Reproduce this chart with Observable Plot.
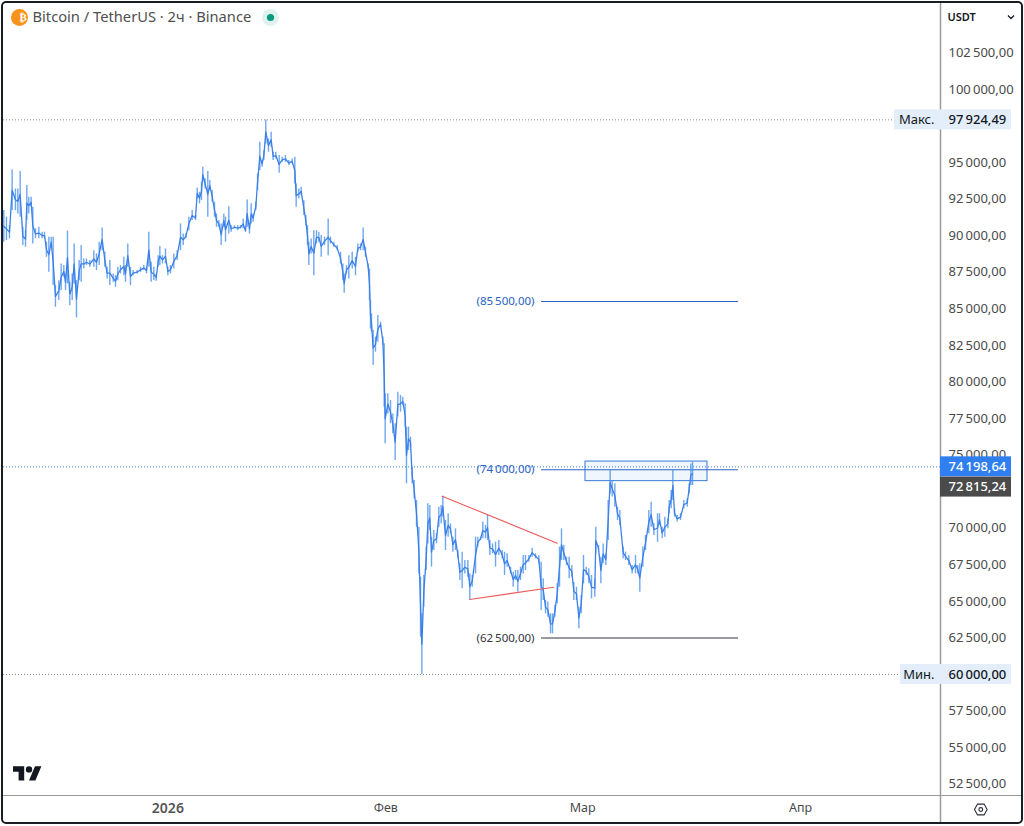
<!DOCTYPE html>
<html><head><meta charset="utf-8">
<script src="https://cdn.jsdelivr.net/npm/d3@7"></script>
<script src="https://cdn.jsdelivr.net/npm/@observablehq/plot@0.6"></script>
<style>
html,body{margin:0;padding:0;background:#f4f4f4;}
#wrap{position:relative;width:1024px;height:826px;overflow:hidden;}
#wrap svg{display:block;}
#frame{position:absolute;left:1px;top:1px;width:1018px;height:819px;border:2px solid #1b1d24;border-radius:5px;pointer-events:none;}
</style></head><body>
<div id="wrap"><div id="chart"></div><div id="frame"></div></div>
<script>
// Days counted from the chart's anchor bar; prices in thousand USDT.
const baseDate = Date.UTC(2026,0,1,19,12);
const decDays = [-24.14,-23.76,-23.33,-22.95,-22.48,-22.14,-21.81,-21.43,-21.05,-20.86,-20.58,-20.25,-20.01,-19.63,-19.16,-18.68,-18.35,-18.07,-17.73,-17.40,-17.12,-16.79,-16.31,-15.98,-15.60,-15.36,-15.08,-14.75,-14.41,-14.13,-13.80,-13.42,-13.13,-12.76,-12.38,-11.90,-11.33,-10.95,-10.57,-10.15,-9.77,-9.44,-9.06,-8.58,-8.25,-7.92,-7.54,-7.06,-6.83,-6.50,-6.12,-5.74,-5.17,-4.69,-4.22,-3.84,-3.51,-3.18,-2.80,-2.46,-2.18,-1.94,-1.56,-1.14,-0.80,-0.43,0.05,0.52,1.00,1.38,1.76,2.18,2.66,3.13,3.37,3.70];
const decHigh = [91.72,91.27,90.70,94.50,93.20,93.20,94.39,90.58,90.35,93.43,92.63,92.63,91.95,90.47,90.58,90.24,90.24,89.56,89.90,89.90,89.90,86.59,86.93,88.07,87.96,87.39,90.31,86.82,87.39,89.44,86.93,88.30,89.33,88.41,88.41,88.30,88.98,88.76,89.56,90.53,88.87,87.84,88.30,87.39,87.27,87.84,87.96,88.53,87.96,89.44,87.84,87.62,87.62,87.84,87.96,87.84,90.24,88.19,87.84,87.39,88.64,89.26,88.64,89.10,87.84,87.96,88.76,88.98,90.81,90.12,90.12,91.27,91.72,91.38,93.27,92.97];
const decLow = [89.56,89.67,89.79,91.72,91.72,91.49,91.27,89.33,89.21,91.04,91.49,91.95,89.44,89.79,89.79,89.79,89.79,88.53,87.50,89.21,86.59,85.11,85.57,86.25,87.16,86.25,86.70,85.22,85.57,86.70,84.38,86.93,86.82,87.73,87.96,87.84,87.84,87.62,87.96,88.98,87.84,87.05,86.59,86.82,86.48,86.93,87.39,87.27,86.82,87.84,86.59,87.27,87.39,87.50,87.62,87.39,87.84,86.82,86.93,86.89,87.84,87.96,88.07,88.07,87.27,87.39,87.73,88.30,88.98,89.33,89.79,90.35,91.04,91.04,92.52,92.18];

const janDays = [3.98,4.17,4.50,4.88,5.17,5.50,5.83,6.12,6.45,6.78,7.16,7.40,7.87,8.20,8.68,9.15,9.53,9.91,10.24,10.48,10.81,11.05,11.33,11.71,11.96,12.28,12.61,12.85,13.13,13.51,13.89,14.18,14.56,15.03,15.46,15.93,16.41,16.88,17.26,17.45,17.83,18.16,18.54,18.82,19.06,19.25,19.58,19.96,20.34,20.67,21.01,21.48,22.00,22.33,22.81,23.28,23.76,24.09,24.28,24.61,24.94,25.42,25.89,26.22,26.60,26.98,27.31,27.69,27.88,28.02];
const janHigh = [93.66,94.68,93.89,94.39,93.77,93.09,92.29,91.49,91.04,90.81,91.49,91.27,91.99,90.69,90.69,90.69,90.69,91.15,90.47,92.45,90.81,92.18,91.49,92.29,94.23,96.39,95.14,95.82,97.92,96.62,97.08,95.71,95.71,95.48,95.37,95.48,95.14,95.25,95.37,93.54,93.20,93.32,92.40,91.38,90.69,89.55,89.78,90.35,90.35,90.24,90.01,89.90,91.15,89.90,89.55,89.33,88.87,88.07,87.39,87.96,88.64,88.87,88.53,89.44,89.44,90.53,89.21,88.07,87.73,85.56];
const janLow = [92.40,93.66,93.20,91.27,93.09,92.29,91.27,90.58,90.58,89.33,90.58,89.56,90.12,90.24,90.47,90.35,90.47,90.47,90.24,90.58,90.12,90.81,90.92,91.72,93.09,94.46,94.68,95.14,96.28,95.71,96.05,95.14,95.25,94.27,95.02,95.02,94.80,94.91,93.54,91.95,92.52,92.75,91.38,90.69,89.33,87.96,88.76,87.27,89.44,89.55,88.53,89.33,88.64,89.44,89.21,88.98,88.07,86.93,86.07,87.39,87.05,87.73,87.27,88.87,88.98,88.98,88.53,87.73,85.56,83.62];

const febDays = [28.16,28.40,28.73,29.07,29.45,29.78,29.97,30.11,30.49,30.87,31.20,31.53,31.91,32.29,32.62,32.95,33.14,33.43,33.71,33.95,34.23,34.57,34.90,35.14,35.33,35.61,35.94,36.18,36.46,36.70,37.03,37.41,37.74,38.08,38.31,38.69,39.07,39.40,39.74,40.11,40.45,40.73,41.06,41.44,41.87,42.15,42.49,42.96,43.29,43.67,44.00,44.38,44.67,45.00,45.38,45.81,46.28,46.75,47.09,47.46,47.94,48.32,48.65,48.98,49.36,49.74,50.07,50.55,51.02,51.50,51.97,52.30,52.59,52.92,53.25,53.63,53.91,54.25,54.58,54.91];
const febHigh = [84.66,83.52,83.07,84.55,84.09,83.07,82.61,79.19,79.19,78.73,77.82,77.14,79.30,79.08,78.96,78.51,76.91,76.91,76.23,74.18,73.26,71.90,70.07,66.65,64.15,66.77,68.71,71.67,71.56,69.39,69.85,69.62,71.44,71.56,72.19,70.53,70.99,70.30,69.39,69.96,68.48,67.57,68.36,67.79,67.79,66.88,66.77,69.39,69.39,69.39,70.42,70.19,70.92,69.16,68.93,69.05,69.16,68.48,68.36,68.25,67.34,67.00,67.11,67.11,67.34,68.14,68.14,68.14,68.64,68.25,68.14,67.68,66.54,65.06,64.95,64.15,64.15,64.72,66.20,68.71];
const febLow = [83.41,81.13,82.04,82.72,83.75,82.50,78.28,75.77,77.82,77.14,76.46,74.63,77.60,77.94,78.39,76.91,73.04,75.32,75.54,73.04,72.01,70.07,66.88,62.55,60.00,64.60,67.11,68.93,69.85,67.34,68.48,68.93,70.07,70.30,70.76,68.48,69.39,69.62,68.36,68.48,67.91,66.43,65.86,66.88,66.65,65.13,65.97,66.88,68.71,69.16,69.28,69.28,69.16,68.14,68.25,67.34,68.14,67.91,66.77,67.34,66.88,65.97,66.43,65.63,66.43,66.88,67.11,67.68,68.02,67.91,67.57,64.38,65.06,64.15,63.92,62.78,62.78,63.92,64.83,65.97];

const marDays = [55.19,55.52,55.90,56.28,56.66,56.94,57.32,57.66,57.99,58.32,58.70,59.08,59.46,59.93,60.07,60.45,60.79,61.12,61.50,61.83,62.11,62.40,62.78,63.16,63.49,63.96,64.30,64.77,65.24,65.72,66.05,66.33,66.76,67.14,67.61,67.94,68.33,68.85,69.13,69.51,69.89,70.32,70.51,70.79,71.03,71.27,71.64,72.12,72.59,73.07,73.35,73.59,73.83];
const marHigh = [69.96,68.82,68.02,68.02,67.45,66.31,65.97,64.60,65.40,68.14,67.34,67.23,66.77,66.54,70.07,68.82,68.02,68.93,68.25,71.90,73.95,73.27,73.04,71.44,71.21,68.71,68.37,68.14,67.45,68.14,67.45,67.57,68.71,69.50,71.21,71.78,70.30,70.99,70.99,70.07,70.76,70.64,71.90,72.58,73.95,71.33,70.87,70.99,71.90,72.01,73.04,74.40,74.52];
const marLow = [67.79,67.79,67.45,66.54,66.66,65.06,65.06,63.12,64.15,66.20,66.77,66.20,65.17,65.29,68.25,68.48,66.20,67.57,67.45,69.16,72.35,72.13,71.44,70.53,70.19,67.91,67.79,67.45,66.88,66.88,66.88,65.63,67.34,68.48,69.62,70.07,69.50,69.05,70.19,69.28,69.39,69.96,70.99,71.33,71.90,70.76,70.42,70.53,71.33,71.44,72.35,72.92,72.92];

const barDays = [...decDays,...janDays,...febDays,...marDays];
const barHigh = [...decHigh,...janHigh,...febHigh,...marHigh];
const barLow  = [...decLow,...janLow,...febLow,...marLow];

const priceTicks = [52500,55000,57500,62500,65000,67500,70000,75000,77500,80000,82500,85000,87500,90000,92500,95000,100000,102500];
const timeTicks = [Date.UTC(2026,1,1),Date.UTC(2026,2,1),Date.UTC(2026,3,1)];
const timeTickLabels = ["Фев","Мар","Апр"];
const yearTick = Date.UTC(2026,0,1);
const levelPrices = [85500,74000,62500];
const levelColors = ["#2b62c4","#2b62c4","#33363d"];
const levelStartDay = 52.35, levelEndDay = 80.37;
const wedgeTop = [[38.22,72190],[54.58,68980]];
const wedgeBottom = [[42.12,65130],[54.08,65970]];
const zone = {day1:58.6,day2:75.96,price1:73220,price2:74560};
const maxPrice = 97924.49, minPrice = 60000, lastPrice = 74198.64, prevPrice = 72815.24;

const toDate = d => new Date(baseDate + d*864e5);
const bars = barDays.map((d,i)=>({date:toDate(d),high:barHigh[i]*1000,low:barLow[i]*1000,mid:(barHigh[i]+barLow[i])*500}));
const loc = d3.formatLocale({decimal:",",thousands:"\u2009",grouping:[3]});
const fmt = loc.format(",.2f");
const FONT = "Noto Sans, sans-serif";
const dayLeft=-24.18, dayRight=109.1, priceBottom=51727, priceTop=105880;
const badgeH = 684;

const svgMark = (markup) => () => {
  const g = document.createElementNS("http://www.w3.org/2000/svg","g");
  g.innerHTML = markup; return g;
};
const badge = (price,day1,day2,fill) => Plot.rect([0],{x1:toDate(day1),x2:toDate(day2),y1:price-badgeH,y2:price+badgeH,fill});
const hdrDot = (dx,r,fill) => Plot.dot([0],{frameAnchor:"top-left",dx,dy:14,r,fill,stroke:null});

const chart = Plot.plot({
  width:1024,height:826,marginLeft:3,marginRight:84,marginTop:3,marginBottom:31,
  style:{fontFamily:FONT,fontSize:"13px",color:"#4a4a4a",background:"#fff"},
  x:{type:"utc",domain:[toDate(dayLeft),toDate(dayRight)]},
  y:{type:"linear",domain:[priceBottom,priceTop]},
  marks:[
    Plot.ruleY([maxPrice],{x1:toDate(dayLeft),x2:toDate(102.56),stroke:"#8a8a8a",strokeWidth:1,strokeDasharray:"1 2"}),
    Plot.ruleY([minPrice],{x1:toDate(dayLeft),x2:toDate(103.4),stroke:"#8a8a8a",strokeWidth:1,strokeDasharray:"1 2"}),
    Plot.ruleY([lastPrice],{x1:toDate(dayLeft),x2:toDate(dayRight),stroke:"#3f83e6",strokeWidth:1,strokeDasharray:"1 2"}),

    Plot.rect([zone],{x1:d=>toDate(d.day1),x2:d=>toDate(d.day2),y1:"price1",y2:"price2",fill:"#2f7ff0",fillOpacity:0.07,stroke:"#3a78d8",strokeWidth:1}),
    Plot.ruleY(levelPrices,{x1:toDate(levelStartDay),x2:toDate(levelEndDay),stroke:(d,i)=>levelColors[i],strokeWidth:1.1}),
    Plot.text(levelPrices,{x:toDate(levelStartDay),y:d=>d,text:d=>"("+fmt(d)+")",dx:-7,textAnchor:"end",fill:(d,i)=>levelColors[i],fontSize:11.5}),

    Plot.ruleX(bars,{x:"date",y1:"low",y2:"high",stroke:"#4a90ec",strokeOpacity:0.8,strokeWidth:1.4}),
    Plot.line(bars,{x:"date",y:"mid",stroke:"#3a80e8",strokeWidth:1.3,curve:"linear"}),

    Plot.line(wedgeTop,{x:d=>toDate(d[0]),y:d=>d[1],stroke:"#ee5a5a",strokeWidth:1.1}),
    Plot.line(wedgeBottom,{x:d=>toDate(d[0]),y:d=>d[1],stroke:"#ee5a5a",strokeWidth:1.1}),

    Plot.axisY({anchor:"right",ticks:priceTicks,tickSize:0,tickPadding:8,tickFormat:fmt,fontSize:13,fill:"#4a4a4a"}),
    Plot.axisX({anchor:"bottom",ticks:timeTicks.map(t=>new Date(t)),tickSize:0,tickPadding:8,tickFormat:(d,i)=>timeTickLabels[i],fontSize:12.5,fill:"#4a4a4a"}),
    Plot.axisX({anchor:"bottom",ticks:[new Date(yearTick)],tickSize:0,tickPadding:8,tickFormat:()=>"2026",fontSize:14,fontWeight:600,fill:"#555"}),

    Plot.ruleX([toDate(dayRight)],{y1:priceBottom,y2:priceTop,stroke:"#9b9b9b",strokeWidth:1.5}),
    Plot.ruleX([toDate(dayRight)],{y1:49812,y2:priceBottom,stroke:"#9b9b9b",strokeWidth:1.5}),
    Plot.ruleY([priceBottom],{x1:toDate(dayLeft),x2:toDate(120.8),stroke:"#9b9b9b",strokeWidth:1.2}),

    badge(maxPrice,102.56,dayRight,"#e3eefa"),
    badge(maxPrice,dayRight,119.2,"#e3eefa"),
    badge(minPrice,103.4,dayRight,"#e3eefa"),
    badge(minPrice,dayRight,119.2,"#e3eefa"),
    badge(lastPrice,dayRight,119.2,"#2f7ff0"),
    badge(prevPrice,dayRight,119.2,"#4b4b4b"),
    Plot.text(["Макс."],{x:toDate(dayRight),y:maxPrice,dx:-6,textAnchor:"end",fill:"#131722",fontSize:13}),
    Plot.text(["Мин."],{x:toDate(dayRight),y:minPrice,dx:-6,textAnchor:"end",fill:"#131722",fontSize:13}),
    Plot.text([maxPrice],{x:toDate(dayRight),y:d=>d,text:d=>fmt(d),dx:8,textAnchor:"start",fill:"#131722",fontSize:13,fontWeight:500}),
    Plot.text([minPrice],{x:toDate(dayRight),y:d=>d,text:d=>fmt(d),dx:8,textAnchor:"start",fill:"#131722",fontSize:13,fontWeight:500}),
    Plot.text([lastPrice],{x:toDate(dayRight),y:d=>d,text:d=>fmt(d),dx:8,textAnchor:"start",fill:"#fff",fontSize:13,fontWeight:500}),
    Plot.text([prevPrice],{x:toDate(dayRight),y:d=>d,text:d=>fmt(d),dx:8,textAnchor:"start",fill:"#fff",fontSize:13,fontWeight:500}),

    hdrDot(16,8.5,"#f7931a"),
    Plot.text(["₿"],{frameAnchor:"top-left",dx:16,dy:14,lineAnchor:"middle",fill:"#fff",fontSize:11,fontWeight:700,fontFamily:"DejaVu Sans"}),
    Plot.text(["Bitcoin / TetherUS · 2ч · Binance"],{frameAnchor:"top-left",dx:29,dy:14,lineAnchor:"middle",textAnchor:"start",fill:"#4f4f4f",fontSize:14.7}),
    hdrDot(267,8.5,"#dff2ee"),
    hdrDot(267,3.6,"#089981"),
    Plot.text(["USDT"],{frameAnchor:"top-left",dx:944,dy:14,lineAnchor:"middle",textAnchor:"start",fill:"#131722",fontSize:11,fontWeight:600}),

    svgMark(`<path transform="translate(1008,15)" d="M0 0.5L3 3.5L6 0.5" fill="none" stroke="#131722" stroke-width="1.3"/>
      <path transform="translate(13,763) scale(0.8)" fill="#131722" d="M14 22H7V11H0V4h14v18zM28 22h-8l7.5-18h8L28 22z"/><circle cx="29" cy="769.4" r="3.2" fill="#131722"/>
      <path d="M974.5 809.5l3-5.4h6.6l3 5.4l-3 5.4h-6.6z" fill="none" stroke="#2a2e39" stroke-width="1.1"/><circle cx="980.8" cy="809.5" r="1.9" fill="none" stroke="#2a2e39" stroke-width="1.1"/>`)
  ]
});
document.getElementById("chart").appendChild(chart);
</script>
</body></html>
